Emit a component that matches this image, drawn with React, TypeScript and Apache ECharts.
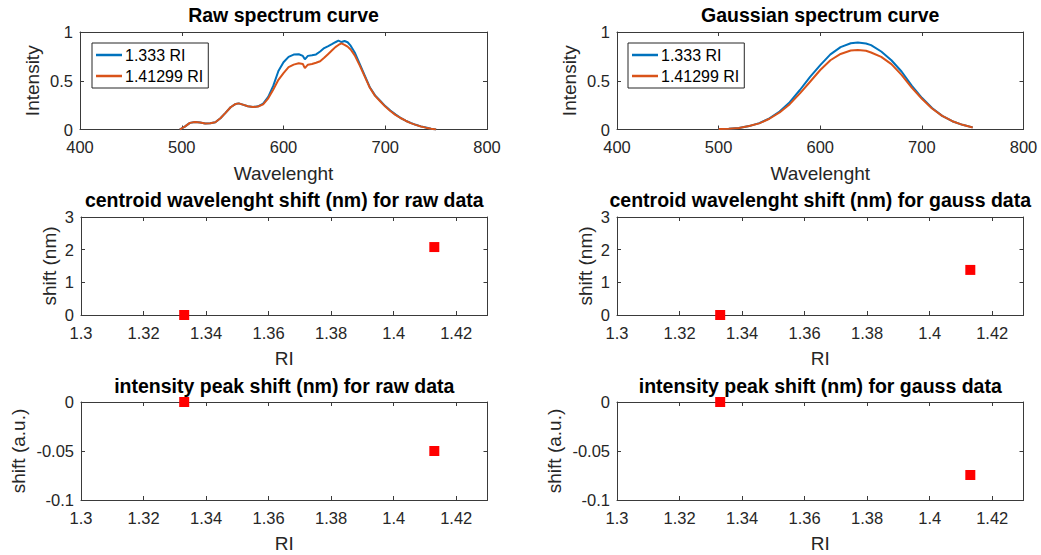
import React, { useEffect, useRef } from "react";
import * as echarts from "echarts";

// ---------- DATA ----------
const legendNames = ["1.333 RI", "1.41299 RI"];

const rawWavelength = [
  498, 503, 508, 513, 518, 523, 528, 533, 538, 543, 548, 553, 556, 560, 565, 570, 575, 580, 585, 590,
  595, 600, 605, 610, 615, 619, 621, 624, 628, 632, 636, 640, 644, 648, 651, 654, 657, 660, 663, 666,
  670, 675, 680, 685, 690, 695, 700, 705, 710, 715, 720, 725, 730, 735, 740, 745, 750,
];
const rawIntensityA = [
  0, 0.03, 0.068, 0.076, 0.072, 0.062, 0.064, 0.075, 0.115, 0.17, 0.228, 0.262, 0.268, 0.255, 0.238, 0.23,
  0.238, 0.265, 0.335, 0.45, 0.6, 0.69, 0.745, 0.768, 0.772, 0.755, 0.72, 0.755, 0.762, 0.77, 0.8, 0.835,
  0.856, 0.878, 0.895, 0.911, 0.897, 0.908, 0.895, 0.86, 0.79, 0.67, 0.55, 0.43, 0.35, 0.295, 0.24, 0.195,
  0.155, 0.12, 0.09, 0.068, 0.048, 0.032, 0.02, 0.008, 0,
];
const rawIntensityB = [
  0, 0.03, 0.068, 0.076, 0.072, 0.062, 0.064, 0.075, 0.115, 0.17, 0.228, 0.262, 0.268, 0.255, 0.238, 0.23,
  0.236, 0.258, 0.32, 0.41, 0.51, 0.578, 0.64, 0.665, 0.68, 0.672, 0.63, 0.665, 0.672, 0.685, 0.7, 0.735,
  0.775, 0.815, 0.845, 0.867, 0.884, 0.868, 0.85, 0.82, 0.76, 0.655, 0.54, 0.425, 0.345, 0.29, 0.235, 0.19,
  0.15, 0.118, 0.09, 0.066, 0.047, 0.031, 0.019, 0.008, 0,
];

const gaussWavelength = [
  500, 510, 520, 530, 540, 550, 560, 570, 580, 590, 600, 610, 620, 630, 637, 645, 650, 660, 670, 680, 690,
  700, 710, 720, 730, 740, 750,
];
const gaussIntensityA = [
  0.004, 0.008, 0.016, 0.035, 0.065, 0.115, 0.185, 0.28, 0.405, 0.54, 0.66, 0.77, 0.845, 0.885, 0.893,
  0.882, 0.865, 0.8, 0.71, 0.595, 0.45, 0.325, 0.22, 0.14, 0.085, 0.048, 0.022,
];
const gaussIntensityB = [
  0.004, 0.008, 0.016, 0.035, 0.063, 0.11, 0.175, 0.26, 0.37, 0.49, 0.61, 0.71, 0.775, 0.81, 0.815,
  0.808, 0.79, 0.745, 0.67, 0.56, 0.43, 0.315, 0.215, 0.14, 0.085, 0.048, 0.02,
];

const riValues = [1.333, 1.41299];
const centroidShiftRaw = [0, 2.08];
const centroidShiftGauss = [0, 1.38];
const peakShiftRaw = [0, -0.05];
const peakShiftGauss = [0, -0.0745];

const titles = [
  "Raw spectrum curve",
  "Gaussian spectrum curve",
  "centroid wavelenght shift (nm) for raw data",
  "centroid wavelenght shift (nm) for gauss data",
  "intensity peak shift (nm) for raw data",
  "intensity peak shift (nm) for gauss data",
];

// ---------- STYLE / LAYOUT ----------
const FONT = "'Liberation Sans', Arial, Helvetica, sans-serif";
const AX = "#3a3a3a";
const TXT = "#262626";
const BLUE = "#0072BD";
const ORANGE = "#D95319";

const grids = [
  { left: 80, top: 32, width: 407, height: 97.5 },
  { left: 617, top: 32, width: 406.5, height: 97.5 },
  { left: 81, top: 217, width: 406.5, height: 98 },
  { left: 617, top: 217, width: 406.5, height: 98 },
  { left: 81, top: 402, width: 406.5, height: 98 },
  { left: 617, top: 402, width: 406.5, height: 98 },
];
const titleTops = [5, 5, 190, 190, 376, 376];

const xSpec = [
  { min: 400, max: 800, interval: 100, name: "Wavelenght", hideMax: false },
  { min: 400, max: 800, interval: 100, name: "Wavelenght", hideMax: false },
  { min: 1.3, max: 1.43, interval: 0.02, name: "RI", hideMax: true },
  { min: 1.3, max: 1.43, interval: 0.02, name: "RI", hideMax: true },
  { min: 1.3, max: 1.43, interval: 0.02, name: "RI", hideMax: true },
  { min: 1.3, max: 1.43, interval: 0.02, name: "RI", hideMax: true },
];
const ySpec = [
  { min: 0, max: 1, interval: 0.5, name: "Intensity", gap: 38 },
  { min: 0, max: 1, interval: 0.5, name: "Intensity", gap: 38 },
  { min: 0, max: 3, interval: 1, name: "shift (nm)", gap: 22 },
  { min: 0, max: 3, interval: 1, name: "shift (nm)", gap: 22 },
  { min: -0.1, max: 0, interval: 0.05, name: "shift (a.u.)", gap: 53 },
  { min: -0.1, max: 0, interval: 0.05, name: "shift (a.u.)", gap: 53 },
];

function zip(xs: number[], ys: number[]) {
  return xs.map((x, i) => [x, ys[i]]);
}

function buildOption() {
  const xAxis: any[] = [];
  const yAxis: any[] = [];
  grids.forEach((_, i) => {
    const xs = xSpec[i];
    const ys = ySpec[i];
    const common = {
      type: "value",
      gridIndex: i,
      splitLine: { show: false },
      axisLine: { show: true, onZero: false, lineStyle: { color: AX, width: 1 } },
      axisTick: { show: true, inside: true, length: 4, lineStyle: { color: AX, width: 1 } },
    };
    xAxis.push({
      ...common,
      min: xs.min,
      max: xs.max,
      interval: xs.interval,
      position: "bottom",
      axisLabel: {
        color: TXT,
        fontSize: 16.5,
        fontFamily: FONT,
        margin: 9,
        showMaxLabel: !xs.hideMax,
        showMinLabel: true,
      },
      name: xs.name,
      nameLocation: "middle",
      nameGap: 34,
      nameTextStyle: { color: TXT, fontSize: 19, fontFamily: FONT },
    });
    xAxis.push({
      ...common,
      min: xs.min,
      max: xs.max,
      interval: xs.interval,
      position: "top",
      axisLabel: { show: false },
    });
    yAxis.push({
      ...common,
      min: ys.min,
      max: ys.max,
      interval: ys.interval,
      position: "left",
      axisLabel: { color: TXT, fontSize: 16.5, fontFamily: FONT, margin: 7 },
      name: ys.name,
      nameLocation: "middle",
      nameGap: ys.gap,
      nameTextStyle: { color: TXT, fontSize: 19, fontFamily: FONT },
    });
    yAxis.push({
      ...common,
      min: ys.min,
      max: ys.max,
      interval: ys.interval,
      position: "right",
      axisLabel: { show: false },
    });
  });

  const lineSeries = (name: string, gi: number, data: number[][], color: string) => ({
    type: "line",
    name,
    xAxisIndex: gi * 2,
    yAxisIndex: gi * 2,
    data,
    showSymbol: false,
    symbol: "none",
    lineStyle: { color, width: 2 },
    itemStyle: { color },
    z: 2,
  });
  const scatterSeries = (gi: number, ys: number[]) => ({
    type: "scatter",
    xAxisIndex: gi * 2,
    yAxisIndex: gi * 2,
    data: zip(riValues, ys),
    symbol: "rect",
    symbolSize: 10,
    clip: false,
    itemStyle: { color: "#ff0000", opacity: 1 },
    z: 3,
  });

  const legendBase = {
    orient: "vertical",
    top: 43,
    padding: [4, 5, 4, 4],
    itemGap: 5,
    itemWidth: 26,
    itemHeight: 2.5,
    icon: "rect",
    borderColor: "#262626",
    borderWidth: 1,
    borderRadius: 0,
    backgroundColor: "#ffffff",
    textStyle: { color: "#000", fontSize: 16, fontFamily: FONT, padding: [0, 0, 0, -2] },
    data: legendNames,
    selectedMode: false,
  };

  return {
    animation: false,
    backgroundColor: "#ffffff",
    title: grids.map((g, i) => ({
      text: titles[i],
      left: g.left + g.width / 2,
      top: titleTops[i],
      textAlign: "center",
      padding: 0,
      textStyle: { color: "#000", fontSize: 19.5, fontWeight: "bold", fontFamily: FONT },
    })),
    legend: [
      { ...legendBase, left: 92 },
      { ...legendBase, left: 628 },
    ],
    grid: grids.map((g) => ({ ...g, show: false })),
    xAxis,
    yAxis,
    series: [
      lineSeries(legendNames[0], 0, zip(rawWavelength, rawIntensityA), BLUE),
      lineSeries(legendNames[1], 0, zip(rawWavelength, rawIntensityB), ORANGE),
      lineSeries(legendNames[0], 1, zip(gaussWavelength, gaussIntensityA), BLUE),
      lineSeries(legendNames[1], 1, zip(gaussWavelength, gaussIntensityB), ORANGE),
      scatterSeries(2, centroidShiftRaw),
      scatterSeries(3, centroidShiftGauss),
      scatterSeries(4, peakShiftRaw),
      scatterSeries(5, peakShiftGauss),
    ],
  };
}

export default function App() {
  const ref = useRef<HTMLDivElement>(null);
  useEffect(() => {
    if (!ref.current) return;
    const chart = echarts.init(ref.current, null, { renderer: "svg" });
    chart.setOption(buildOption() as any);
    return () => chart.dispose();
  }, []);
  return (
    <div
      ref={ref}
      style={{ position: "absolute", left: 0, top: 0, width: 1041, height: 555, background: "#fff" }}
    />
  );
}
